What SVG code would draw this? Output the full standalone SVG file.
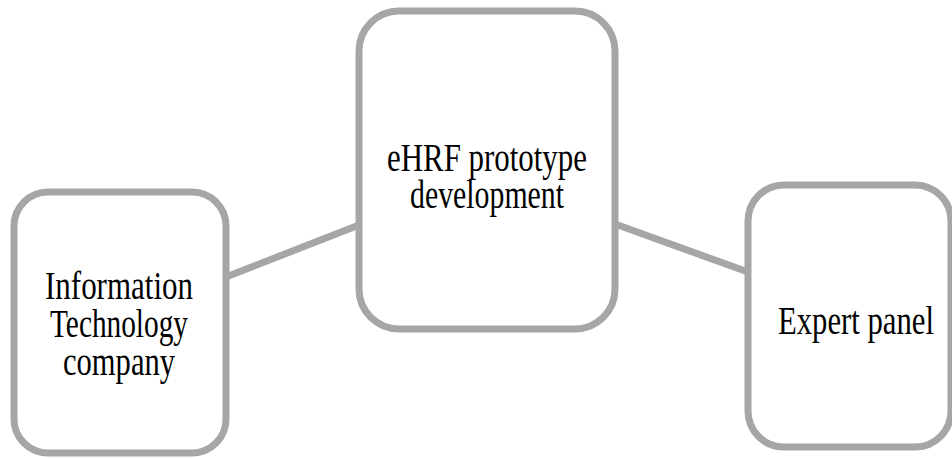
<svg xmlns="http://www.w3.org/2000/svg" width="952" height="458" viewBox="0 0 952 458">
<style>
.node{fill:#ffffff;stroke:#a6a6a6;stroke-width:7}
.edge{stroke:#a6a6a6;stroke-width:7;fill:none}
.lbl{font-family:"Liberation Serif","Times New Roman",serif;font-size:40px;fill:#000000;text-anchor:middle}
</style>
<rect width="952" height="458" fill="#ffffff"/>
<g id="connectors">
<line class="edge" x1="226" y1="277" x2="359" y2="225"/>
<line class="edge" x1="615" y1="224" x2="748" y2="272"/>
</g>
<g id="node-it">
<rect class="node" x="14" y="192" width="212" height="261" rx="34" ry="34"/>
<text class="lbl" x="119" y="299" textLength="148" lengthAdjust="spacingAndGlyphs">Information</text>
<text class="lbl" x="119" y="337" textLength="138" lengthAdjust="spacingAndGlyphs">Technology</text>
<text class="lbl" x="119" y="375" textLength="112" lengthAdjust="spacingAndGlyphs">company</text>
</g>
<g id="node-ehrf">
<rect class="node" x="359" y="11" width="256" height="318" rx="40" ry="40"/>
<text class="lbl" x="487" y="171" textLength="200" lengthAdjust="spacingAndGlyphs">eHRF prototype</text>
<text class="lbl" x="487" y="208" textLength="154" lengthAdjust="spacingAndGlyphs">development</text>
</g>
<g id="node-expert">
<rect class="node" x="748" y="185" width="203" height="262" rx="36" ry="36"/>
<text class="lbl" x="856" y="334" textLength="156" lengthAdjust="spacingAndGlyphs">Expert panel</text>
</g>
</svg>
